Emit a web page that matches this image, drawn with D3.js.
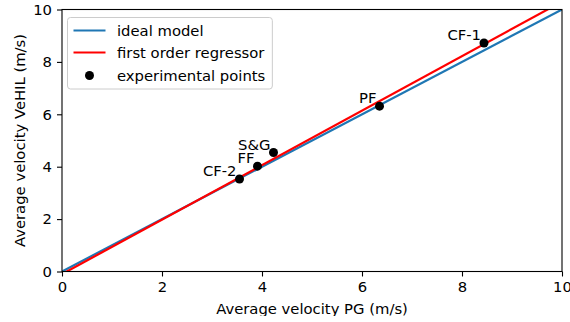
<!DOCTYPE html>
<html>
<head>
<meta charset="utf-8">
<script src="https://cdn.jsdelivr.net/npm/d3@7"></script>
<style>
  html, body { margin: 0; padding: 0; background: #fff; }
  svg { display: block; }
  text { font-family: "DejaVu Sans", sans-serif; fill: #000; }
</style>
</head>
<body>
<svg id="chart" width="570" height="316"></svg>
<script>
// Experimental measurements: PG velocity vs VeHIL velocity (m/s)
const pointNames = ["CF-2", "FF", "S&G", "PF", "CF-1"];
const pgVelocity = [3.55, 3.91, 4.23, 6.35, 8.44];
const vehilVelocity = [3.53, 4.02, 4.54, 6.31, 8.72];

// Straight lines drawn over the full axis range
const lineX = [0, 10];
const idealSlope = 1, idealIntercept = 0;
const regSlope = 1.04, regIntercept = -0.1;

const tickValues = [0, 2, 4, 6, 8, 10];
const legendLabels = ["ideal model", "first order regressor", "experimental points"];

const blue = "#1f77b4", red = "#ff0000";
const fontSize = 14.8;

const svg = d3.select("#chart");
const x = d3.scaleLinear().domain([0, 10]).range([62, 562]);
const y = d3.scaleLinear().domain([0, 10]).range([271.5, 9.5]);

svg.append("clipPath").attr("id", "plot-clip")
  .append("rect")
  .attr("x", x(0)).attr("y", y(10))
  .attr("width", x(10) - x(0)).attr("height", y(0) - y(10));

const plot = svg.append("g").attr("clip-path", "url(#plot-clip)");

const line = d3.line().x(d => x(d[0])).y(d => y(d[1]));

plot.append("path")
  .datum(lineX.map(v => [v, idealSlope * v + idealIntercept]))
  .attr("d", line).attr("fill", "none")
  .attr("stroke", blue).attr("stroke-width", 2.2);

plot.append("path")
  .datum(lineX.map(v => [v, regSlope * v + regIntercept]))
  .attr("d", line).attr("fill", "none")
  .attr("stroke", red).attr("stroke-width", 2.2);

const pts = pointNames.map((n, i) => ({ name: n, x: pgVelocity[i], y: vehilVelocity[i] }));

svg.append("g").selectAll("circle").data(pts).join("circle")
  .attr("cx", d => x(d.x)).attr("cy", d => y(d.y)).attr("r", 4.5)
  .attr("fill", "#000");

svg.append("g").selectAll("text").data(pts).join("text")
  .attr("x", d => x(d.x) - 3).attr("y", d => y(d.y) - 3)
  .attr("text-anchor", "end")
  .attr("font-size", fontSize)
  .text(d => d.name);

// Axes
const xAxis = d3.axisBottom(x).tickValues(tickValues).tickSize(5).tickPadding(5).tickFormat(d3.format("d"));
const yAxis = d3.axisLeft(y).tickValues(tickValues).tickSize(5).tickPadding(5).tickFormat(d3.format("d"));

const gx = svg.append("g").attr("transform", `translate(0,${y(0)})`).call(xAxis);
const gy = svg.append("g").attr("transform", `translate(${x(0)},0)`).call(yAxis);
[gx, gy].forEach(g => {
  g.select(".domain").remove();
  g.selectAll("line").attr("stroke", "#000").attr("stroke-width", 1.1);
  g.selectAll("text").attr("font-size", fontSize).attr("font-family", "DejaVu Sans, sans-serif").attr("fill", "#000");
});

// Frame around the plot area
svg.append("rect")
  .attr("x", x(0)).attr("y", y(10))
  .attr("width", x(10) - x(0)).attr("height", y(0) - y(10))
  .attr("fill", "none").attr("stroke", "#000").attr("stroke-width", 1.1);

// Axis titles
svg.append("text")
  .attr("x", (x(0) + x(10)) / 2).attr("y", 313.5)
  .attr("text-anchor", "middle").attr("font-size", fontSize)
  .text("Average velocity PG (m/s)");

svg.append("text")
  .attr("transform", `translate(24.5,${(y(0) + y(10)) / 2}) rotate(-90)`)
  .attr("text-anchor", "middle").attr("font-size", fontSize)
  .text("Average velocity VeHIL (m/s)");

// Legend
const lg = svg.append("g").attr("transform", "translate(67.5,17.5)");
const frame = lg.append("rect")
  .attr("height", 71.5).attr("rx", 3)
  .attr("fill", "#fff").attr("fill-opacity", 0.8)
  .attr("stroke", "#cccccc").attr("stroke-width", 1);

const rowY = [13, 35, 58];
let maxRight = 0;
legendLabels.forEach((lab, i) => {
  const row = lg.append("g").attr("transform", `translate(0,${rowY[i]})`);
  if (i === 0 || i === 1) {
    row.append("line").attr("x1", 6).attr("x2", 38)
      .attr("stroke", i === 0 ? blue : red).attr("stroke-width", 2.2);
  } else {
    row.append("circle").attr("cx", 22).attr("r", 4.5).attr("fill", "#000");
  }
  const t = row.append("text").attr("x", 49.5).attr("dy", "0.35em")
    .attr("font-size", fontSize).text(lab);
  maxRight = Math.max(maxRight, 49.5 + t.node().getComputedTextLength());
});
frame.attr("width", maxRight + 7);
</script>
</body>
</html>
